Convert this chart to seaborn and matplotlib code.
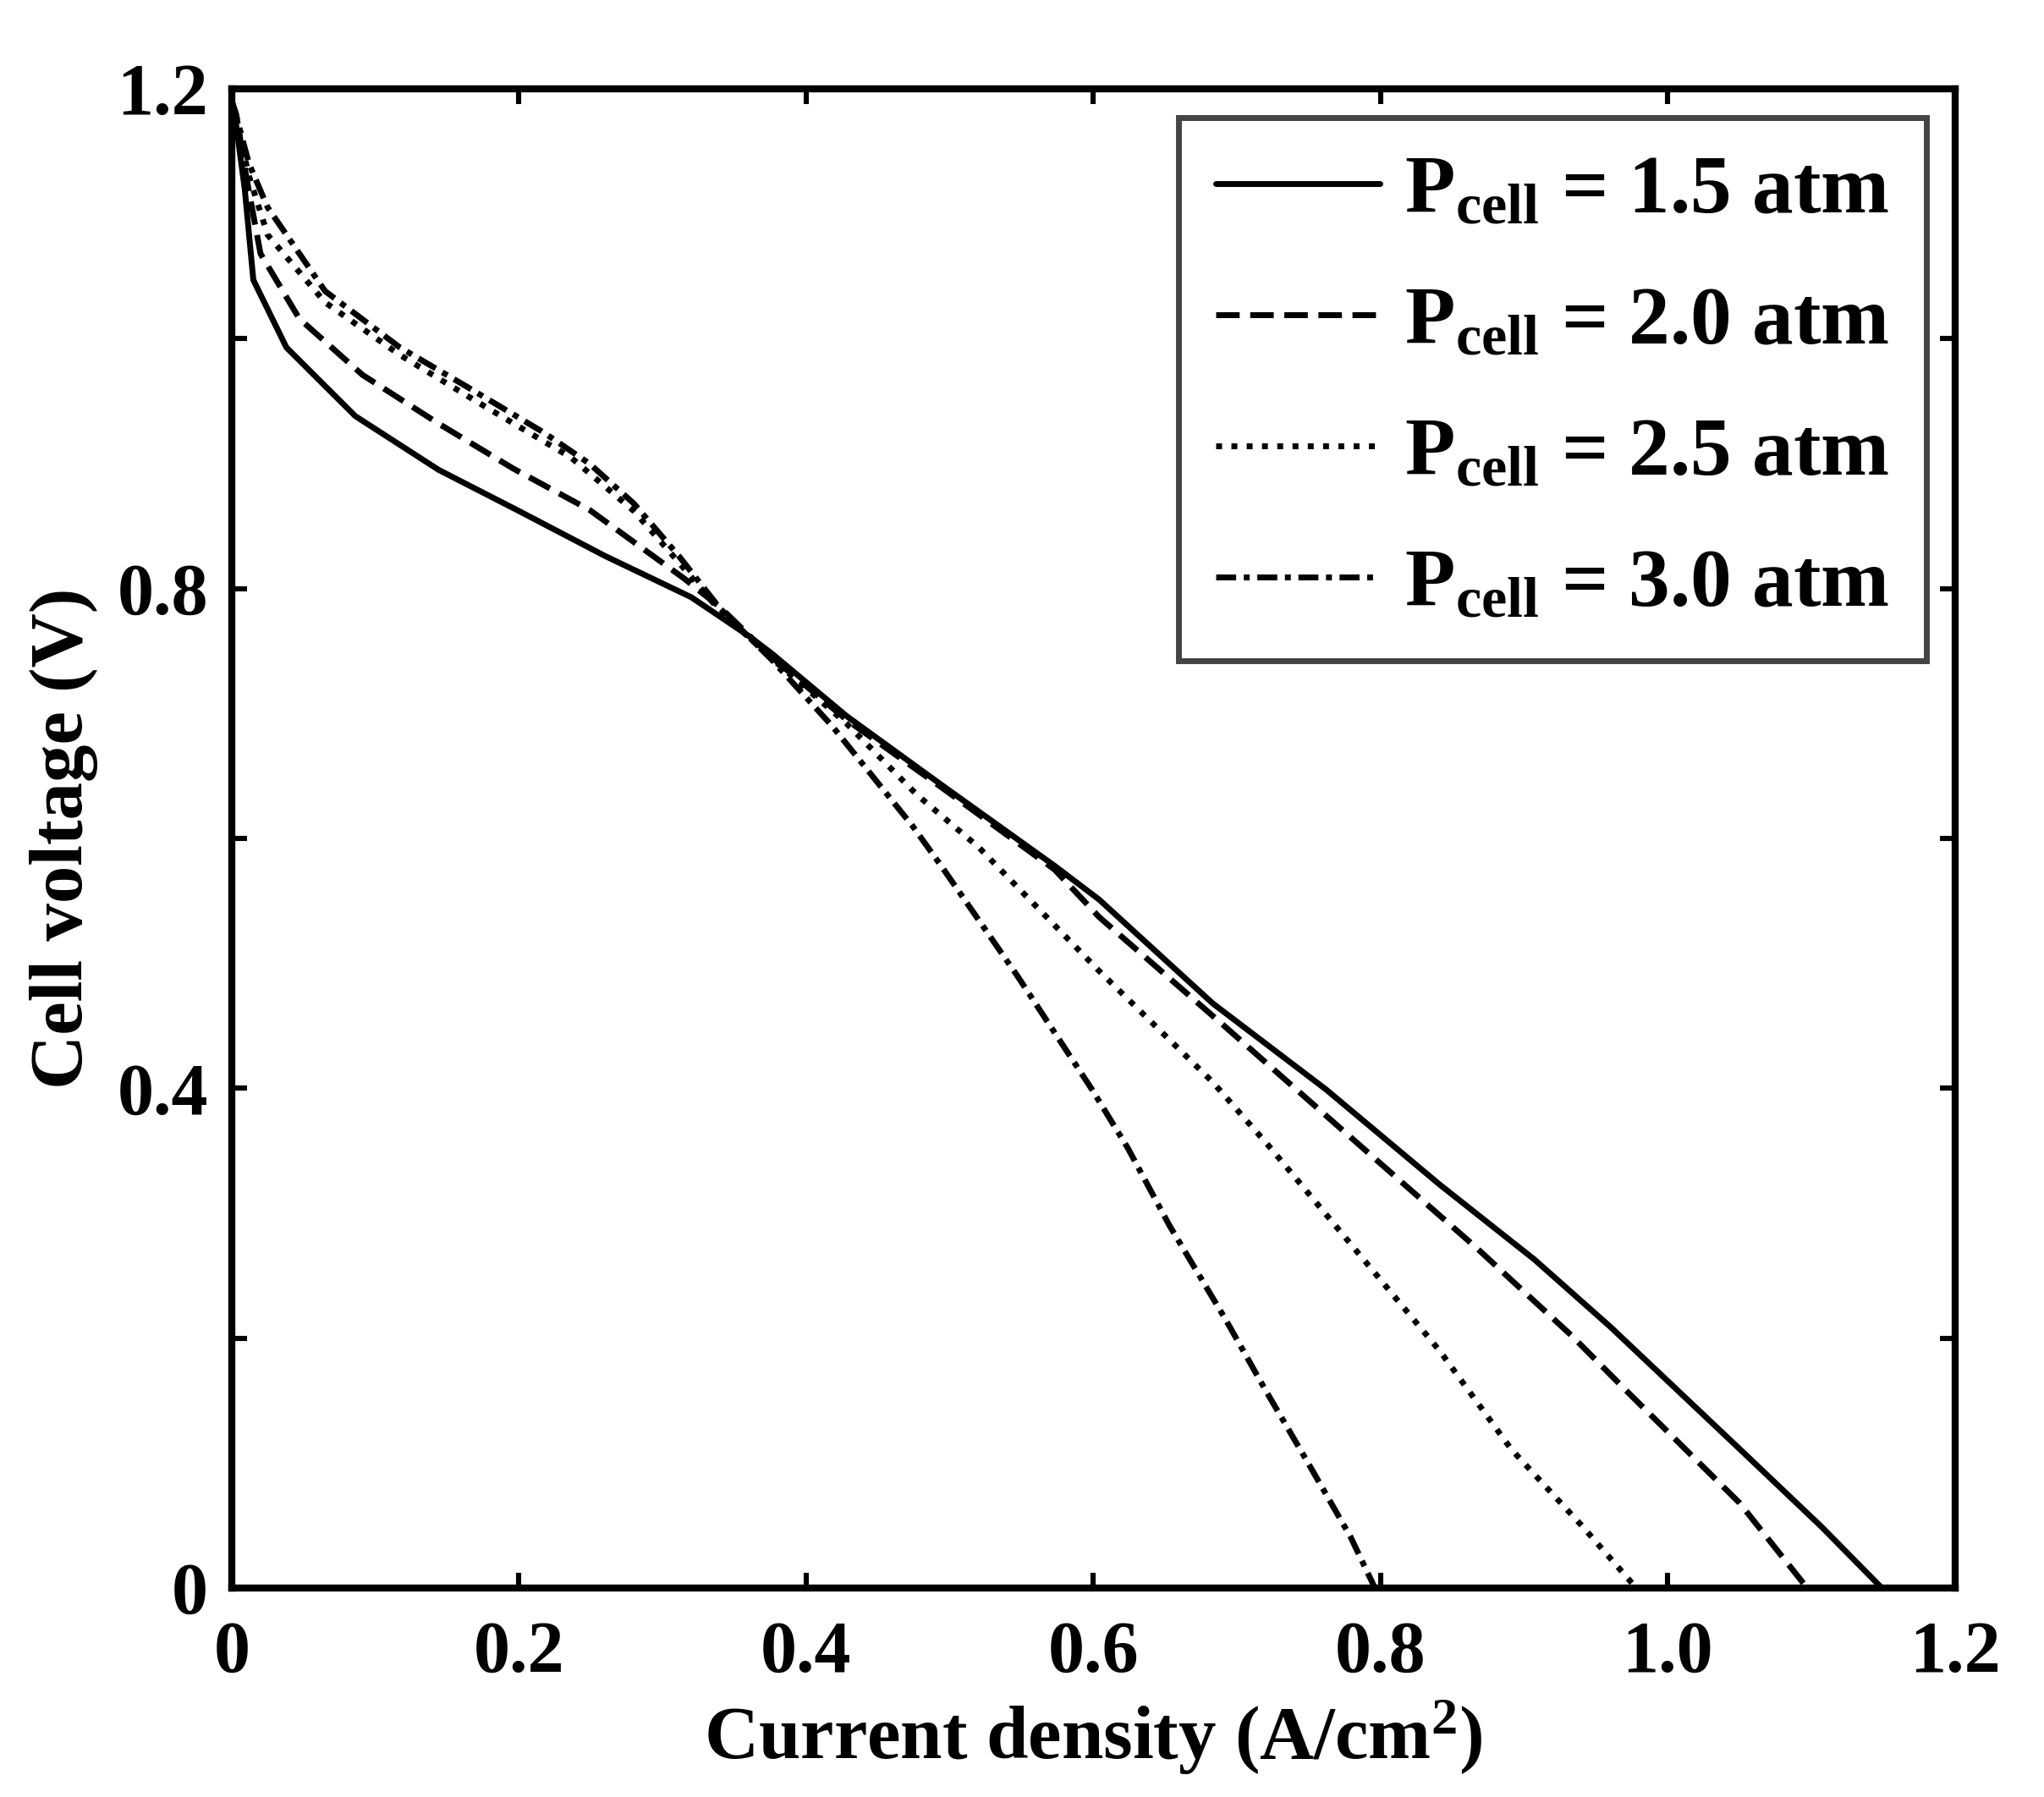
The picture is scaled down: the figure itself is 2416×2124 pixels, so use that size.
import numpy as np
import pandas as pd
import matplotlib
matplotlib.use("Agg")
import matplotlib.pyplot as plt
import seaborn as sns

# ---------------- data ----------------
x_15 = [0.0, 0.002, 0.009, 0.015, 0.038, 0.086, 0.144, 0.200, 0.260, 0.320, 0.360,
        0.376, 0.428, 0.494, 0.573, 0.604, 0.683, 0.762, 0.841, 0.907, 0.960,
        1.053, 1.107, 1.149]
v_15 = [1.19, 1.18, 1.12, 1.047, 0.993, 0.938, 0.895, 0.862, 0.826, 0.793, 0.762,
        0.748, 0.698, 0.643, 0.578, 0.551, 0.468, 0.399, 0.323, 0.263, 0.209,
        0.108, 0.049, 0.0]

x_20 = [0.0, 0.003, 0.010, 0.020, 0.047, 0.091, 0.144, 0.196, 0.249, 0.315, 0.340,
        0.376, 0.428, 0.494, 0.573, 0.604, 0.691, 0.768, 0.867, 0.933, 0.971,
        1.050, 1.097]
v_20 = [1.19, 1.18, 1.13, 1.068, 1.016, 0.971, 0.932, 0.896, 0.863, 0.808, 0.785,
        0.745, 0.695, 0.641, 0.575, 0.537, 0.450, 0.372, 0.272, 0.202, 0.158,
        0.068, 0.0]

x_25 = [0.0, 0.004, 0.012, 0.025, 0.065, 0.117, 0.170, 0.236, 0.280, 0.312, 0.340,
        0.376, 0.428, 0.477, 0.520, 0.603, 0.683, 0.722, 0.762, 0.812, 0.841,
        0.891, 0.940, 0.978]
v_25 = [1.19, 1.17, 1.13, 1.083, 1.029, 0.987, 0.950, 0.905, 0.862, 0.820, 0.782,
        0.744, 0.692, 0.635, 0.593, 0.495, 0.405, 0.354, 0.299, 0.230, 0.190,
        0.111, 0.050, 0.0]

x_30 = [0.0, 0.005, 0.012, 0.025, 0.065, 0.117, 0.163, 0.217, 0.249, 0.280, 0.312,
        0.340, 0.376, 0.418, 0.474, 0.494, 0.547, 0.599, 0.624, 0.653, 0.692,
        0.720, 0.748, 0.779, 0.796]
v_30 = [1.19, 1.17, 1.14, 1.105, 1.038, 0.993, 0.962, 0.925, 0.900, 0.868, 0.825,
        0.784, 0.743, 0.690, 0.610, 0.578, 0.490, 0.399, 0.352, 0.290, 0.215,
        0.158, 0.103, 0.041, 0.0]

labels = [r"$\mathbf{P}_{\mathbf{cell}}$ = 1.5 atm",
          r"$\mathbf{P}_{\mathbf{cell}}$ = 2.0 atm",
          r"$\mathbf{P}_{\mathbf{cell}}$ = 2.5 atm",
          r"$\mathbf{P}_{\mathbf{cell}}$ = 3.0 atm"]

x_ticks = [0, 0.2, 0.4, 0.6, 0.8, 1.0, 1.2]
x_ticklabels = ["0", "0.2", "0.4", "0.6", "0.8", "1.0", "1.2"]
y_ticks = [0, 0.2, 0.4, 0.6, 0.8, 1.0, 1.2]
y_ticklabels = ["0", "", "0.4", "", "0.8", "", "1.2"]

# ---------------- style ----------------
sns.set_theme(style="ticks")
plt.rcParams["font.family"] = ["Liberation Serif", "DejaVu Serif"]
plt.rcParams["font.weight"] = "bold"
plt.rcParams["text.color"] = "black"
plt.rcParams["axes.labelcolor"] = "black"
plt.rcParams["xtick.color"] = "black"
plt.rcParams["ytick.color"] = "black"
plt.rcParams["mathtext.fontset"] = "custom"
plt.rcParams["mathtext.rm"] = "Liberation Serif:bold"
plt.rcParams["mathtext.bf"] = "Liberation Serif:bold"
plt.rcParams["mathtext.it"] = "Liberation Serif:bold"

fig = plt.figure(figsize=(12.08, 10.62), dpi=200)
ax = fig.add_axes([0.1134, 0.1163, 0.9565 - 0.1134, 0.9506 - 0.1163])

series = [(x_15, v_15, "-"),
          (x_20, v_20, (0, (4.0, 1.8))),
          (x_25, v_25, (0, (1.0, 1.6))),
          (x_30, v_30, (0, (3.4, 1.3, 1.0, 1.3)))]

lw = 2.5
for (xs, vs, ls), lab in zip(series, labels):
    sns.lineplot(x=xs, y=vs, ax=ax, color="black", linewidth=lw,
                 linestyle=ls, sort=False, estimator=None, label=lab)

ax.set_xlim(0, 1.2)
ax.set_ylim(0, 1.2)
ax.set_xticks(x_ticks)
ax.set_xticklabels(x_ticklabels)
ax.set_yticks(y_ticks)
ax.set_yticklabels(y_ticklabels)

for sp in ax.spines.values():
    sp.set_visible(True)
    sp.set_linewidth(3.0)
    sp.set_color("black")

ax.tick_params(axis="both", which="major", direction="in", length=6.5, width=2.2,
               top=True, right=True, labelsize=31, colors="black")
ax.tick_params(axis="x", pad=14)
ax.tick_params(axis="y", pad=10)
for t in ax.get_xticklabels() + ax.get_yticklabels():
    t.set_fontweight("bold")
    t.set_color("black")

ax.set_xlabel(r"Current density (A/cm$^{\mathbf{2}}$)", fontsize=32,
              fontweight="bold", labelpad=4, color="black")
ax.set_ylabel("Cell voltage (V)", fontsize=32, fontweight="bold", labelpad=8,
              color="black")

leg = ax.legend(loc="upper right", frameon=True, fancybox=False,
                handlelength=2.0, handletextpad=0.3, labelspacing=0.68,
                borderpad=0.45, borderaxespad=0.35,
                prop={"family": "Liberation Serif", "weight": "bold", "size": 35})
for t in leg.get_texts():
    t.set_color("black")
leg.get_frame().set_edgecolor("#444444")
leg.get_frame().set_linewidth(2.5)
leg.get_frame().set_alpha(1.0)

fig.savefig("out.png", dpi=200, facecolor="white")
